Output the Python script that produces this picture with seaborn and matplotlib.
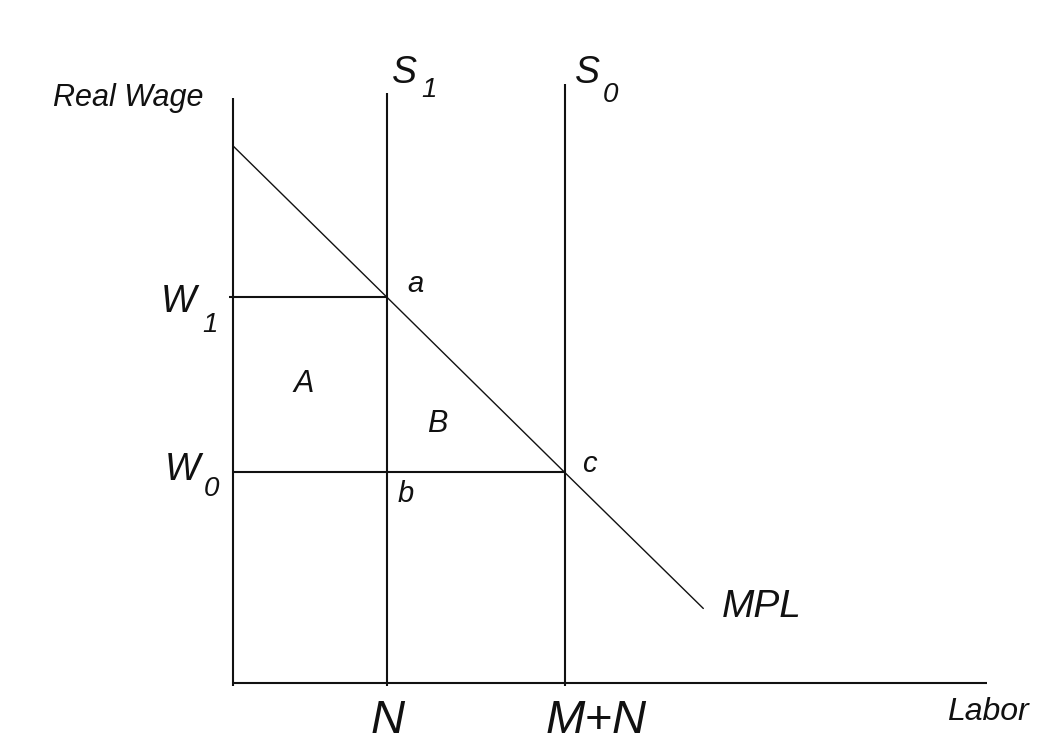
import matplotlib
matplotlib.use("Agg")
import matplotlib.pyplot as plt
import seaborn as sns
import pandas as pd

# ==================== data (economic units) ====================
labor_marks = [3.0, 6.45]          # N, M+N
labor_labels = ["N", "M+N"]
wage_levels = [7.5, 4.1]           # w1, w0
supply_tops = [11.48, 11.65]       # top of S1, S0
mpl_labor = [0.0, 3.0, 6.45, 9.15]
mpl_wage = [10.45, 7.5, 4.1, 1.45]
axis_top = 11.38
axis_right = 14.67

# ==================== style ====================
sns.set_theme(style="white")
plt.rcParams['font.family'] = ['Liberation Sans', 'DejaVu Sans']
plt.rcParams['font.style'] = 'italic'
ink = "#111111"

fig = plt.figure(figsize=(10.4, 7.44), dpi=100)
ax = fig.add_axes([0, 0, 1, 1])
ax.set_xlim(-4.533, 15.70)
ax.set_ylim(-1.187, 13.288)
ax.set_axis_off()

# axes
ax.vlines(0, 0, axis_top, color=ink, lw=1.5)
ax.hlines(0, 0, axis_right, color=ink, lw=1.5)
for x in [0] + labor_marks:
    ax.vlines(x, -0.06, 0, color=ink, lw=1.5)

# supply lines S1, S0
for x, top in zip(labor_marks, supply_tops):
    ax.vlines(x, 0, top, color=ink, lw=1.5)

# wage lines
ax.hlines(wage_levels[0], -0.08, labor_marks[0], color=ink, lw=1.5)
ax.hlines(wage_levels[1], 0, labor_marks[1], color=ink, lw=1.5)

# MPL curve
mpl_df = pd.DataFrame({"labor": mpl_labor, "wage": mpl_wage})
sns.lineplot(data=mpl_df, x="labor", y="wage", ax=ax, color=ink, lw=1.0,
             sort=False, estimator=None)

# ==================== labels ====================
N, MN = labor_marks
w1, w0 = wage_levels
kw = dict(color=ink, va="baseline", ha="left")

ax.text(-3.50, 11.23, "Real Wage", fontsize=22, **kw)
ax.text(13.89, -0.72, "Labor", fontsize=23, **kw)
ax.text(N, -0.97, labor_labels[0], fontsize=34, color=ink, va="baseline", ha="center")
ax.text(MN - 0.36, -0.97, labor_labels[1], fontsize=34, **kw)
ax.text(9.51, 1.28, "MPL", fontsize=28, **kw)

ax.text(N + 0.09, 11.67, "S", fontsize=27, **kw)
ax.text(N + 0.66, 11.40, "1", fontsize=20, **kw)
ax.text(MN + 0.20, 11.67, "S", fontsize=27, **kw)
ax.text(MN + 0.74, 11.30, "0", fontsize=20, **kw)

ax.text(-1.40, w1 - 0.28, "W", fontsize=27, **kw)
ax.text(-0.60, w1 - 0.67, "1", fontsize=20, **kw)
ax.text(-1.33, w0 - 0.15, "W", fontsize=27, **kw)
ax.text(-0.56, w0 - 0.46, "0", fontsize=20, **kw)

ax.text(N + 0.40, w1 + 0.11, "a", fontsize=21, **kw)
ax.text(N + 0.20, w0 - 0.58, "b", fontsize=21, **kw)
ax.text(MN + 0.34, w0 + 0.0, "c", fontsize=21, **kw)
ax.text(1.17, 5.66, "A", fontsize=22, **kw)
ax.text(3.77, 4.88, "B", fontsize=22, **kw)

fig.savefig("out.png", dpi=100)
